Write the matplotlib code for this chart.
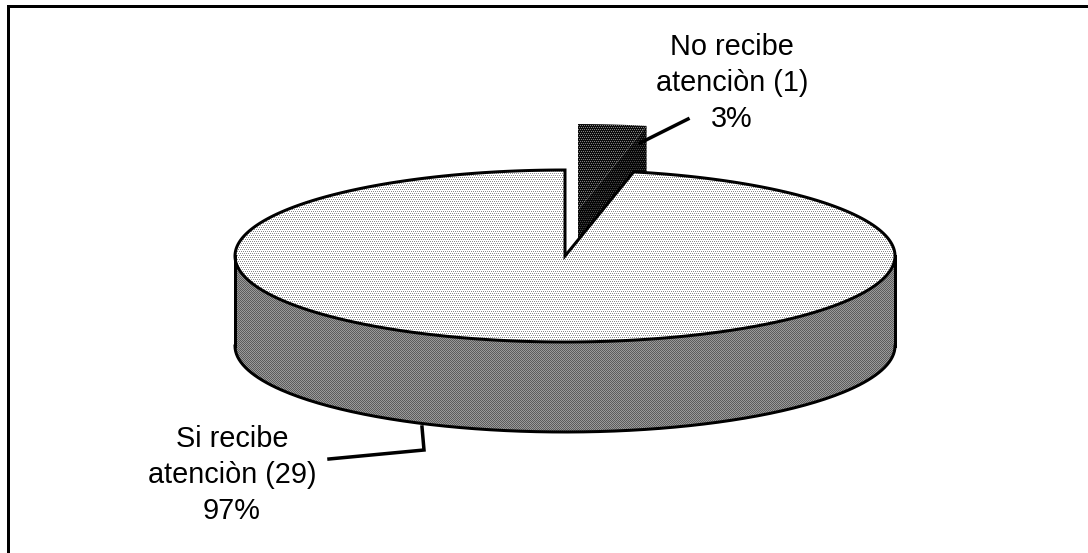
import numpy as np
from matplotlib import pyplot as plt
from matplotlib.patches import Polygon

plt.rcParams['font.family'] = ['Liberation Sans', 'DejaVu Sans']

categories = ["Si recibe\natenciòn", "No recibe\natenciòn"]
counts = [29, 1]

W, H = 1088, 553
CX, CY, RX, RY, DEPTH = 565, 256, 330, 86, 90
EXPLODE = (13, -46)
EDGE = 3 * 0.72

fig = plt.figure(figsize=(W / 100, H / 100), dpi=100)
ax = fig.add_axes([0, 0, 1, 1])
ax.set_xlim(0, W)
ax.set_ylim(H, 0)
ax.axis("off")


def rim(theta, cx=CX, cy=CY):
    # theta in degrees, clockwise from 12 o'clock
    t = np.radians(theta)
    return np.column_stack([cx + RX * np.sin(t), cy - RY * np.cos(t)])


def stipple(poly, tile):
    # ordered dither like the old office charts, one tile cell = one pixel
    tile = np.array(tile, dtype=float)
    img = np.tile(tile, (H // tile.shape[0] + 1, W // tile.shape[1] + 1))[:H, :W]
    patch = Polygon(poly, closed=True, fc="none", ec="none")
    ax.add_patch(patch)
    im = ax.imshow(img, cmap="gray", vmin=0, vmax=1, extent=(0, W, H, 0),
                   interpolation="nearest", aspect="auto", zorder=patch.get_zorder())
    im.set_clip_path(patch)


LIGHT = [[1, 1, 1, 1], [0.55, 1, 0.55, 1], [1, 1, 1, 1], [1, 0.55, 1, 0.55]]
MID = [[0.36, 0.6, 0.36, 0.6], [0.6, 0.36, 0.6, 0.36], [0.36, 0.6, 0.36, 0.6], [0.62, 0.36, 0.62, 0.36]]
DARK_TOP = [[0.05, 0.05, 0.05, 0.05], [0.5, 0.05, 0.5, 0.05], [0.05, 0.05, 0.05, 0.05], [0.05, 0.5, 0.05, 0.5]]
DARK_SIDE = [[0.03, 0.03, 0.03, 0.03], [0.3, 0.03, 0.3, 0.03], [0.03, 0.03, 0.03, 0.03], [0.03, 0.3, 0.03, 0.3]]

sweep_small = 360 * counts[1] / sum(counts)

# small slice pulled out
ox, oy = CX + EXPLODE[0], CY + EXPLODE[1]
arc_small = rim(np.linspace(0, sweep_small, 20), ox, oy)
apex = np.array([[ox, oy]])
wall = np.vstack([apex, arc_small[-1:], arc_small[-1:] + [0, DEPTH], apex + [0, DEPTH]])
stipple(wall, DARK_SIDE)
top_small = np.vstack([apex, arc_small])
stipple(top_small, DARK_TOP)

# big slice, side then top
front = rim(np.linspace(90, 270, 200))
side = np.vstack([front, front[::-1] + [0, DEPTH]])
stipple(side, MID)
ax.plot(*(front + [0, DEPTH]).T, color="k", lw=EDGE, zorder=3)
ax.plot([CX + RX] * 2, [CY, CY + DEPTH], color="k", lw=EDGE, zorder=3)
ax.plot([CX - RX] * 2, [CY, CY + DEPTH], color="k", lw=EDGE, zorder=3)

arc_big = rim(np.linspace(sweep_small, 360, 400))
top_big = np.vstack([[[CX, CY]], arc_big])
stipple(top_big, LIGHT)
ax.add_patch(Polygon(top_big, closed=True, fc="none", ec="k", lw=EDGE, joinstyle="miter", zorder=3))

# leaders
ax.plot([688, 640], [119, 143], color="k", lw=3.5 * 0.72, zorder=4)
ax.plot([422, 424, 329], [427, 450, 459], color="k", lw=3.5 * 0.72, zorder=4, solid_joinstyle="miter")

# labels
pct = [f"{round(100 * c / sum(counts))}%" for c in counts]
label_pos = [(232, 475), (732, 83)]
for cat, c, p, (x, y) in zip(categories, counts, pct, label_pos):
    ax.text(x, y, f"{cat} ({c})\n{p}", ha="center", va="center", fontsize=20.8,
            color="k", linespacing=1.38, zorder=5)

# only top and left of the chart frame show up
ax.plot([7.5, 7.5, W], [H, 6, 6], color="k", lw=3 * 0.72, solid_joinstyle="miter", zorder=6)

ax.set_xlim(0, W)
ax.set_ylim(H, 0)
fig.savefig("out.png", dpi=100, facecolor="white")
